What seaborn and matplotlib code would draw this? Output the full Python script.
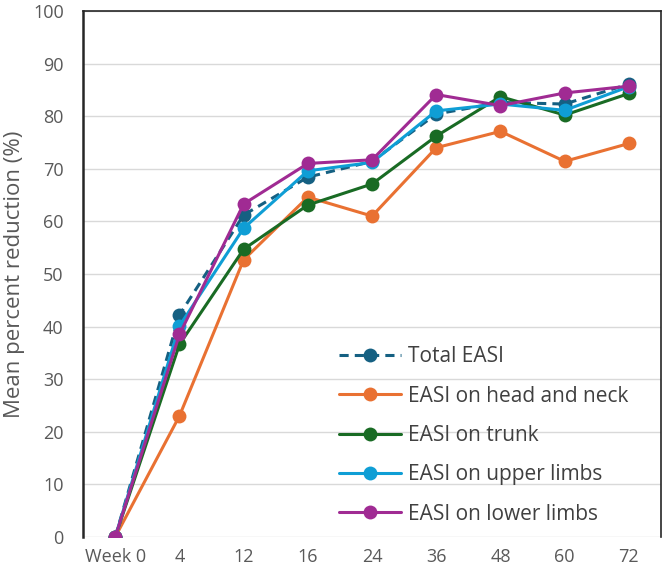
import matplotlib
matplotlib.use("Agg")
import matplotlib.pyplot as plt
import seaborn as sns

# Data
weeks = ["Week 0", "4", "12", "16", "24", "36", "48", "60", "72"]
total_easi = [0, 42.2, 61.2, 68.4, 71.4, 80.4, 82.6, 82.3, 86.1]
head_neck = [0, 23.0, 52.7, 64.6, 61.0, 74.0, 77.1, 71.4, 74.8]
trunk = [0, 36.6, 54.7, 63.1, 67.1, 76.2, 83.7, 80.2, 84.3]
upper_limbs = [0, 40.1, 58.7, 69.6, 71.2, 81.0, 82.3, 81.1, 85.6]
lower_limbs = [0, 38.5, 63.3, 71.0, 71.7, 84.1, 82.0, 84.4, 85.7]

series = [
    ("Total EASI", total_easi, "#156082", "--"),
    ("EASI on head and neck", head_neck, "#E97132", "-"),
    ("EASI on trunk", trunk, "#196B24", "-"),
    ("EASI on upper limbs", upper_limbs, "#0F9ED5", "-"),
    ("EASI on lower limbs", lower_limbs, "#A02B93", "-"),
]

sns.set_style("white")
plt.rcParams["font.family"] = ["Open Sans", "DejaVu Sans"]

fig, ax = plt.subplots(figsize=(6.65, 5.74), dpi=100)
fig.subplots_adjust(left=0.125, right=0.994, top=0.981, bottom=0.0645)

for name, vals, color, ls in series:
    sns.lineplot(x=weeks, y=vals, ax=ax, color=color, linestyle=ls,
                 linewidth=2.2, marker="o", markersize=10, markeredgewidth=0,
                 sort=False, label=name)
    if ls == "--":
        ax.lines[-1].set_dashes((3, 2))

ax.set_ylim(0, 100)
ax.set_yticks(range(0, 101, 10))
ax.set_xlim(-0.5, len(weeks) - 0.5)
ax.yaxis.grid(True, color="#d9d9d9", linewidth=1)
ax.set_axisbelow(True)

ax.spines["bottom"].set_visible(False)
for side in ["left", "top", "right"]:
    ax.spines[side].set_color("#262626")
ax.spines["left"].set_linewidth(1.8)
ax.spines["top"].set_linewidth(1.2)
ax.spines["right"].set_linewidth(1.2)

ax.tick_params(axis="y", length=0, labelsize=13, colors="#595959", pad=14)
ax.tick_params(axis="x", length=0, labelsize=13, colors="#595959", pad=8)
ax.set_ylabel("Mean percent reduction (%)", fontsize=16, color="#595959",
              labelpad=6)
ax.set_xlabel("")

leg = ax.legend(loc="upper left", bbox_to_anchor=(0.41, 0.398), frameon=False,
                fontsize=15, handlelength=3.0, handletextpad=0.3,
                labelspacing=0.88, labelcolor="#404040")

fig.savefig("out.png", dpi=100)
